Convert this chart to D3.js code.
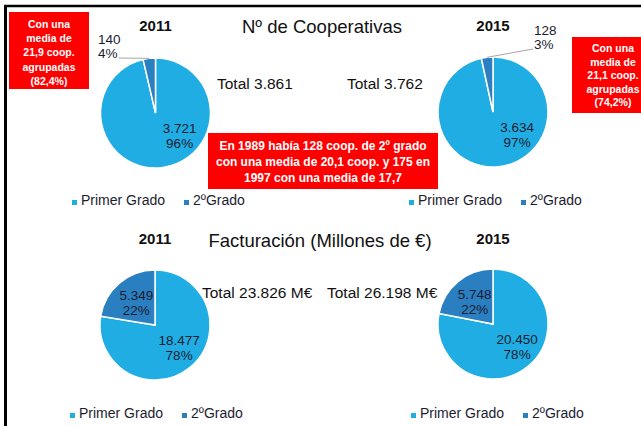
<!DOCTYPE html>
<html>
<head>
<meta charset="utf-8">
<script src="https://cdn.jsdelivr.net/npm/d3@7"></script>
<style>
  body { margin: 0; background: #fff; }
  svg { display: block; font-family: "Liberation Sans", Arial, sans-serif; }
</style>
</head>
<body>
<div id="chart"></div>
<script>
// data
var years = ["2011", "2015"];
var categories = ["Primer Grado", "2ºGrado"];
var coopValues = [[3721, 140], [3634, 128]];
var factValues = [[18477, 5349], [20450, 5748]];
var boxLeft = ["Con una", "media de", "21,9 coop.", "agrupadas", "(82,4%)"];
var boxRight = ["Con una", "media de", "21,1 coop.", "agrupadas", "(74,2%)"];
var boxMiddle = ["En 1989 había 128 coop. de 2º grado", "con una media de 20,1 coop. y 175 en", "1997 con una media de 17,7"];

var svgWidth = 641;
var svgHeight = 426;
var R = 55;

var colors = d3.scaleOrdinal().domain(categories).range(["#1fade3", "#2a7fc1"]);
var es = d3.formatLocale({ decimal: ",", thousands: ".", grouping: [3], currency: ["", "€"] });
var fmtNum = es.format(",d");
var textColor = "#1c1c30";

var svg = d3.select("#chart")
  .append("svg")
  .attr("width", svgWidth)
  .attr("height", svgHeight);

// frame (top and left only)
svg.append("line").attr("x1", 4).attr("x2", svgWidth).attr("y1", 6).attr("y2", 6)
  .attr("stroke", "#000").attr("stroke-width", 2.5);
svg.append("line").attr("x1", 5.5).attr("x2", 5.5).attr("y1", 5).attr("y2", svgHeight)
  .attr("stroke", "#000").attr("stroke-width", 3);

var pie = d3.pie().sort(null).value(d => d);
var arc = d3.arc().innerRadius(0).outerRadius(R);

function drawPie(cx, cy, values, year, titleY, totalText, totalX, totalY, legendX, legendY, outsideSmall) {
  var g = svg.append("g").attr("transform", `translate(${cx}, ${cy})`);
  var total = d3.sum(values);
  var arcs = pie(values);

  g.selectAll("path")
    .data(arcs)
    .enter()
    .append("path")
    .attr("d", arc)
    .attr("fill", (d, i) => colors(categories[i]))
    .attr("stroke", "#fff")
    .attr("stroke-width", 1.5);

  // big slice label
  var a0 = 133 * Math.PI / 180;
  var rl = 0.6 * R;
  var big = g.append("text")
    .attr("text-anchor", "middle")
    .attr("fill", textColor)
    .style("font-size", "13.5px");
  big.append("tspan").attr("x", rl * Math.sin(a0)).attr("y", -rl * Math.cos(a0) - 3).text(fmtNum(values[0]));
  big.append("tspan").attr("x", rl * Math.sin(a0)).attr("y", -rl * Math.cos(a0) + 12).text(Math.round(values[0] / total * 100) + "%");

  // small slice label
  var s = arcs[1];
  var mid = (s.startAngle + s.endAngle) / 2;
  if (outsideSmall) {
    var px = R * Math.sin(mid), py = -R * Math.cos(mid);
    var side = outsideSmall;
    var ex = side < 0 ? -37 : 40, ey = side < 0 ? -55 : -63;
    g.append("line")
      .attr("x1", px).attr("y1", py).attr("x2", ex).attr("y2", ey)
      .attr("stroke", "#a6a6a6").attr("stroke-width", 1);
    var t = g.append("text")
      .attr("fill", textColor)
      .attr("text-anchor", side < 0 ? "end" : "start")
      .style("font-size", "13.5px");
    var tx = side < 0 ? ex - 1 : ex + 1;
    t.append("tspan").attr("x", tx + (side < 0 ? 3 : 0)).attr("y", ey - 14).text(fmtNum(values[1]));
    t.append("tspan").attr("x", tx).attr("y", ey).text(Math.round(values[1] / total * 100) + "%");
  } else {
    var c = d3.arc().innerRadius(0).outerRadius(R * 1.05).centroid(s);
    var t2 = g.append("text")
      .attr("text-anchor", "middle")
      .attr("fill", textColor)
      .style("font-size", "13.5px");
    t2.append("tspan").attr("x", c[0]).attr("y", c[1] - 3).text(fmtNum(values[1]));
    t2.append("tspan").attr("x", c[0]).attr("y", c[1] + 12).text(Math.round(values[1] / total * 100) + "%");
  }

  // year
  svg.append("text")
    .attr("x", cx)
    .attr("y", titleY)
    .attr("text-anchor", "middle")
    .attr("fill", "#111")
    .style("font-size", "15px")
    .style("font-weight", "bold")
    .text(year);

  // total
  svg.append("text")
    .attr("x", totalX)
    .attr("y", totalY)
    .attr("fill", "#111")
    .style("font-size", "15.5px")
    .text(totalText);

  // legend
  var lg = svg.append("g").attr("transform", `translate(${legendX}, ${legendY})`);
  var offs = [0, 112];
  categories.forEach(function(cat, i) {
    lg.append("rect")
      .attr("x", offs[i]).attr("y", -5).attr("width", 5).attr("height", 5)
      .attr("fill", colors(cat));
    lg.append("text")
      .attr("x", offs[i] + 9).attr("y", 0)
      .attr("fill", textColor)
      .style("font-size", "14px")
      .text(cat);
  });
}

function redBox(x, y, w, h, lines, cx, firstY, step, size) {
  svg.append("rect").attr("x", x).attr("y", y).attr("width", w).attr("height", h).attr("fill", "#ff0000");
  var t = svg.append("text")
    .attr("text-anchor", "middle")
    .attr("fill", "#fff")
    .style("font-size", size + "px")
    .style("font-weight", "bold");
  lines.forEach(function(l, i) {
    t.append("tspan").attr("x", cx).attr("y", firstY + i * step).text(l);
  });
}

// titles
svg.append("text").attr("x", 322).attr("y", 33).attr("text-anchor", "middle")
  .attr("fill", "#111").style("font-size", "18.5px").text("Nº de Cooperativas");
svg.append("text").attr("x", 320).attr("y", 247).attr("text-anchor", "middle")
  .attr("fill", "#111").style("font-size", "18.5px").text("Facturación (Millones de €)");

var fmtTotal = es.format(",d");

drawPie(155.5, 113, coopValues[0], years[0], 31, "Total " + fmtTotal(d3.sum(coopValues[0])), 217, 89, 72, 205, -1);
drawPie(493, 112, coopValues[1], years[1], 31, "Total " + fmtTotal(d3.sum(coopValues[1])), 347, 89, 409, 205, 1);
drawPie(155, 325, factValues[0], years[0], 244, "Total " + fmtTotal(d3.sum(factValues[0])) + " M€", 202, 298, 70, 418, 0);
drawPie(493, 324, factValues[1], years[1], 244, "Total " + fmtTotal(d3.sum(factValues[1])) + " M€", 327, 298, 411, 418, 0);

redBox(9, 12, 80, 77, boxLeft, 49, 28, 14.2, 10.5);
redBox(572, 37, 70, 76, boxRight, 613, 52, 13.6, 10.5);
redBox(208, 133, 230, 56, boxMiddle, 323, 150, 16, 12);
</script>
</body>
</html>
